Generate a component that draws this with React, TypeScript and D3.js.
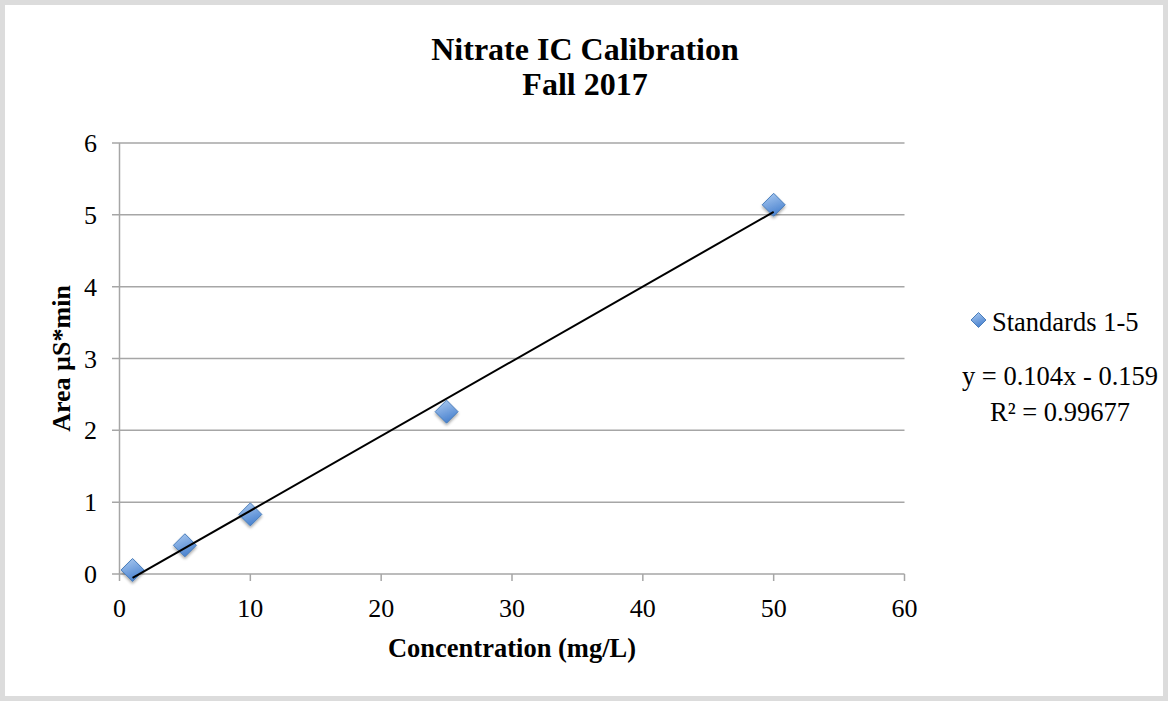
import React from "react";
import * as d3 from "d3";

const concentrations = [1, 5, 10, 25, 50];
const areas = [0.056, 0.4, 0.83, 2.26, 5.14];
const xTicks = [0, 10, 20, 30, 40, 50, 60];
const yTicks = [0, 1, 2, 3, 4, 5, 6];
const trendSlope = 0.104;
const trendIntercept = -0.159;
const titleLines = ["Nitrate IC Calibration", "Fall 2017"];
const seriesName = "Standards 1-5";
const equationText = "y = 0.104x - 0.159";
const r2Text = "R² = 0.99677";

const W = 1168;
const H = 701;
const FONT = "'Liberation Serif', 'Times New Roman', serif";

export default function App() {
  const x = d3.scaleLinear().domain([0, 60]).range([119.5, 904.5]);
  const y = d3.scaleLinear().domain([0, 6]).range([574, 143]);
  const diamond = (cx: number, cy: number, r: number) =>
    `M${cx},${cy - r}L${cx + r},${cy}L${cx},${cy + r}L${cx - r},${cy}Z`;
  const x0 = concentrations[0];
  const x1 = concentrations[concentrations.length - 1];
  const grid = "#a6a6a6";

  return (
    <svg
      width={W}
      height={H}
      style={{ position: "absolute", left: 0, top: 0, background: "#fff" }}
      fontFamily={FONT}
    >
      <defs>
        <linearGradient id="mk" x1="0" y1="0" x2="0.4" y2="1">
          <stop offset="0" stopColor="#afcdf2" />
          <stop offset="1" stopColor="#4c84d0" />
        </linearGradient>
        <filter id="sh" x="-50%" y="-50%" width="200%" height="200%">
          <feGaussianBlur in="SourceAlpha" stdDeviation="1.5" />
          <feOffset dx="0" dy="2" result="b" />
          <feComponentTransfer>
            <feFuncA type="linear" slope="0.35" />
          </feComponentTransfer>
          <feMerge>
            <feMergeNode />
            <feMergeNode in="SourceGraphic" />
          </feMerge>
        </filter>
      </defs>
      <rect x={2.5} y={2.5} width={W - 5} height={H - 5} fill="#fff" stroke="#dcdcdc" strokeWidth={5} />

      {/* title */}
      <text x={585} y={60} textAnchor="middle" fontSize={32} fontWeight="bold">
        {titleLines[0]}
      </text>
      <text x={585} y={95} textAnchor="middle" fontSize={32} fontWeight="bold">
        {titleLines[1]}
      </text>

      {/* gridlines */}
      {yTicks.map((t) => (
        <g key={"y" + t}>
          <line x1={112} x2={x(60)} y1={y(t)} y2={y(t)} stroke={grid} strokeWidth={1.5} />
          <text x={97} y={y(t) + 9} textAnchor="end" fontSize={26}>
            {t}
          </text>
        </g>
      ))}
      <line x1={x(0)} x2={x(0)} y1={y(6)} y2={y(0)} stroke={grid} strokeWidth={1.5} />
      {xTicks.map((t) => (
        <g key={"x" + t}>
          <line x1={x(t)} x2={x(t)} y1={y(0)} y2={y(0) + 7} stroke={grid} strokeWidth={1.5} />
          <text x={x(t)} y={617} textAnchor="middle" fontSize={26}>
            {t}
          </text>
        </g>
      ))}

      {/* axis titles */}
      <text
        transform={`translate(70,${(y(0) + y(6)) / 2}) rotate(-90)`}
        textAnchor="middle"
        fontSize={26}
        fontWeight="bold"
      >
        Area µS*min
      </text>
      <text x={(x(0) + x(60)) / 2} y={657} textAnchor="middle" fontSize={26.5} fontWeight="bold">
        Concentration (mg/L)
      </text>

      {/* markers */}
      {concentrations.map((c, i) => (
        <path
          key={i}
          d={diamond(x(c), y(areas[i]), 11.5)}
          fill="url(#mk)"
          stroke="#4a7ebb"
          strokeWidth={1}
          filter="url(#sh)"
        />
      ))}

      {/* trendline */}
      <line
        x1={x(x0)}
        y1={y(trendSlope * x0 + trendIntercept)}
        x2={x(x1)}
        y2={y(trendSlope * x1 + trendIntercept)}
        stroke="#000"
        strokeWidth={2}
      />

      {/* legend */}
      <path d={diamond(978.5, 320, 7.5)} fill="url(#mk)" stroke="#4a7ebb" strokeWidth={1} />
      <text x={992} y={331} fontSize={26.5}>
        {seriesName}
      </text>
      <text x={1060} y={385} textAnchor="middle" fontSize={26.5}>
        {equationText}
      </text>
      <text x={1060} y={421} textAnchor="middle" fontSize={26.5}>
        {r2Text}
      </text>
    </svg>
  );
}
